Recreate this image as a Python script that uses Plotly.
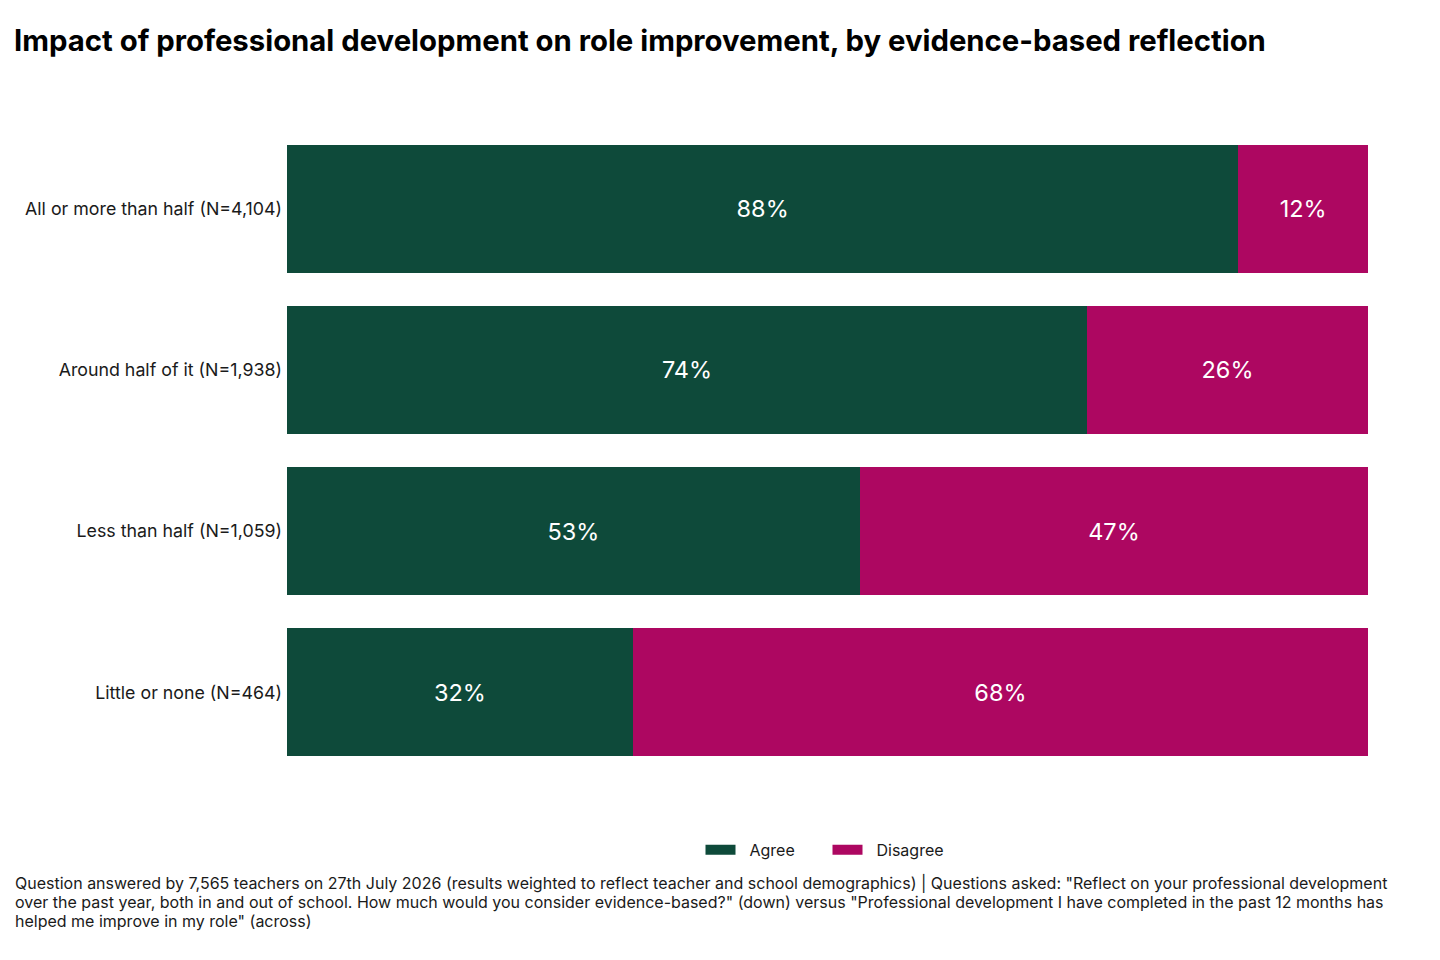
import plotly.graph_objects as go

categories = [
    "All or more than half (N=4,104)",
    "Around half of it (N=1,938)",
    "Less than half (N=1,059)",
    "Little or none (N=464)",
]
agree = [88, 74, 53, 32]
disagree = [12, 26, 47, 68]

GREEN = "#0e4a3a"
MAGENTA = "#ad0761"
FONT = "Inter"
PAD = "\u00a0\u00a0"  # pushes legend text away from the swatch

fig = go.Figure()
for name, vals, color in [("Agree", agree, GREEN), ("Disagree", disagree, MAGENTA)]:
    fig.add_trace(go.Bar(
        y=categories, x=vals, name=name, orientation="h",
        marker=dict(color=color, line=dict(width=0)),
        text=[f"{v}%" for v in vals], textposition="inside",
        insidetextanchor="middle", textangle=0,
        textfont=dict(color="white", size=23.5, family=FONT),
        showlegend=False, hoverinfo="skip",
    ))
    # legend entry with a wide swatch
    fig.add_trace(go.Scatter(
        x=[None], y=[None], mode="lines", name=PAD + name,
        line=dict(color=color, width=12),
    ))

footnote_lines = [
    "Question answered by 7,565 teachers on 27th July 2026 (results weighted to reflect teacher and school "
    "demographics) | Questions asked: \"Reflect on your professional development",
    "over the past year, both in and out of school. How much would you consider evidence-based?\" (down) "
    "versus \"Professional development I have completed in the past 12 months has",
    "helped me improve in my role\" (across)",
]
footnote_y = [-0.1705, -0.2, -0.2295]

fig.update_layout(
    width=1440, height=960,
    barmode="stack", bargap=0.205,
    paper_bgcolor="white", plot_bgcolor="white",
    font=dict(family=FONT, color="#1a1a1a", size=18),
    margin=dict(l=279, r=80, t=120, b=195),
    title=dict(
        text="<b>Impact of professional development on role improvement, by evidence-based reflection</b>",
        x=0.0042, xanchor="left", y=0.966, yanchor="middle",
        font=dict(size=29.3, color="black", family=FONT),
    ),
    xaxis=dict(range=[0, 100], visible=False, fixedrange=True),
    yaxis=dict(
        autorange="reversed", showgrid=False, showline=False, ticks="",
        ticklabelstandoff=4, tickfont=dict(size=17.8, color="#1a1a1a"),
    ),
    legend=dict(
        orientation="h", x=0.5, xanchor="center", y=-0.119, yanchor="middle",
        font=dict(size=16, color="#1a1a1a"), entrywidth=82, entrywidthmode="pixels",
        traceorder="normal",
    ),
    annotations=[
        dict(
            text=line, xref="paper", yref="paper",
            x=-0.2534, xanchor="left", y=yy, yanchor="middle",
            align="left", showarrow=False,
            font=dict(size=16, color="#1a1a1a", family=FONT),
        )
        for line, yy in zip(footnote_lines, footnote_y)
    ],
)

fig.write_html("out.html")
